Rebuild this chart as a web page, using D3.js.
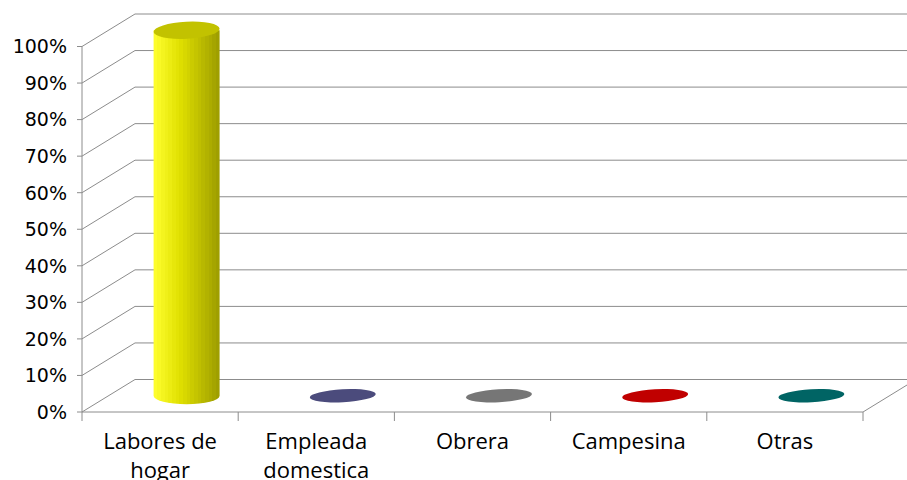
<!DOCTYPE html>
<html>
<head>
<meta charset="utf-8">
<script src="https://cdn.jsdelivr.net/npm/d3@7"></script>
<style>
  body { margin: 0; background: #fff; }
  svg { display: block; }
</style>
</head>
<body>
<div id="chart"></div>
<script>
// data
const categories = ["Labores de hogar", "Empleada domestica", "Obrera", "Campesina", "Otras"];
const values = [1.0, 0, 0, 0, 0];
const colors = ["#e6e600", "#4b4b7c", "#767676", "#c00000", "#006464"];
const yTicks = [0, 0.1, 0.2, 0.3, 0.4, 0.5, 0.6, 0.7, 0.8, 0.9, 1.0];

const width = 907, height = 480;
// 3d depth offset of the back wall
const dx = 53, dy = -32.5;

const svg = d3.select("#chart").append("svg")
    .attr("width", width)
    .attr("height", height);

const x = d3.scaleBand()
    .domain(categories)
    .range([82, 863]);

const y = d3.scaleLinear()
    .domain([0, 1])
    .range([412, 46.5]);

const grid = "#8c8c8c";

// back wall gridlines
svg.append("g").selectAll("line.back")
    .data(yTicks)
    .join("line")
    .attr("x1", 82 + dx).attr("x2", width + 5)
    .attr("y1", d => y(d) + dy).attr("y2", d => y(d) + dy)
    .attr("stroke", grid).attr("stroke-width", 1);

// side wall diagonals
svg.append("g").selectAll("line.side")
    .data(yTicks)
    .join("line")
    .attr("x1", 82).attr("x2", 82 + dx)
    .attr("y1", d => y(d)).attr("y2", d => y(d) + dy)
    .attr("stroke", grid).attr("stroke-width", 1);

// floor front edge + right diagonal
svg.append("path")
    .attr("d", `M82,${y(0)} L863,${y(0)} L${863 + dx},${y(0) + dy}`)
    .attr("fill", "none")
    .attr("stroke", grid);

// front vertical axis
svg.append("line")
    .attr("x1", 82).attr("x2", 82)
    .attr("y1", y(1)).attr("y2", y(0))
    .attr("stroke", grid);

// y ticks and labels
const yAxis = svg.append("g");
yAxis.selectAll("line")
    .data(yTicks)
    .join("line")
    .attr("x1", 77).attr("x2", 82)
    .attr("y1", d => y(d)).attr("y2", d => y(d))
    .attr("stroke", grid);
yAxis.selectAll("text")
    .data(yTicks)
    .join("text")
    .attr("x", 67)
    .attr("y", d => y(d))
    .attr("dy", "0.36em")
    .attr("text-anchor", "end")
    .attr("font-family", "DejaVu Sans, sans-serif")
    .attr("font-size", 19)
    .attr("fill", "#000")
    .text(d => d3.format(".0%")(d));

// category ticks
const catEdges = categories.map(c => x(c)).concat([863]);
svg.append("g").selectAll("line")
    .data(catEdges)
    .join("line")
    .attr("x1", d => d).attr("x2", d => d)
    .attr("y1", y(0)).attr("y2", y(0) + 9)
    .attr("stroke", grid);

// category labels (two lines)
const labels = svg.append("g").selectAll("text")
    .data(categories)
    .join("text")
    .attr("x", d => x(d) + x.bandwidth() / 2)
    .attr("y", 449)
    .attr("text-anchor", "middle")
    .attr("font-family", "Open Sans, sans-serif")
    .attr("font-size", 22)
    .attr("fill", "#000");
labels.each(function(d) {
    const words = d.split(" ");
    const lines = words.length > 2 ? [words.slice(0, 2).join(" "), words.slice(2).join(" ")]
        : words.length === 2 && d.length > 12 ? [words[0], words[1]] : [d];
    d3.select(this).selectAll("tspan")
        .data(lines)
        .join("tspan")
        .attr("x", x(d) + x.bandwidth() / 2)
        .attr("dy", (l, i) => i === 0 ? 0 : 29)
        .text(l => l);
});

// gradient for the yellow cylinder body, faceted look
const defs = svg.append("defs");
const grad = defs.append("linearGradient").attr("id", "cylYellow");
const facets = 18;
const shade = d3.scaleLinear().domain([0, 0.4, 1]).range(["#ffff30", "#e0e000", "#9c9c00"]);
for (let i = 0; i < facets; i++) {
    const t0 = i / facets, t1 = (i + 1) / facets;
    const c = shade((t0 + t1) / 2);
    grad.append("stop").attr("offset", t0).attr("stop-color", c);
    grad.append("stop").attr("offset", t1).attr("stop-color", c);
}

// cylinders
const rx = 33;
const cyl = svg.append("g").selectAll("g")
    .data(categories.map((c, i) => ({ c, v: values[i], col: colors[i] })))
    .join("g")
    .attr("transform", d => `translate(${x(d.c) + x.bandwidth() / 2 + dx / 2},${dy / 2})`);

cyl.filter(d => d.v > 0).append("path")
    .attr("d", d => {
        const ry = 8.5, yt = y(d.v), yb = y(0);
        return `M${-rx},${yt} L${-rx},${yb} A${rx},${ry} 0 0 0 ${rx},${yb} L${rx},${yt} Z`;
    })
    .attr("fill", "url(#cylYellow)");

cyl.append("ellipse")
    .attr("cx", 0)
    .attr("cy", d => y(d.v))
    .attr("rx", rx)
    .attr("ry", d => d.v > 0 ? 8.5 : 6.5)
    .attr("transform", d => `rotate(-3,0,${y(d.v)})`)
    .attr("fill", d => d.v > 0 ? "#c2c200" : d.col);
</script>
</body>
</html>
